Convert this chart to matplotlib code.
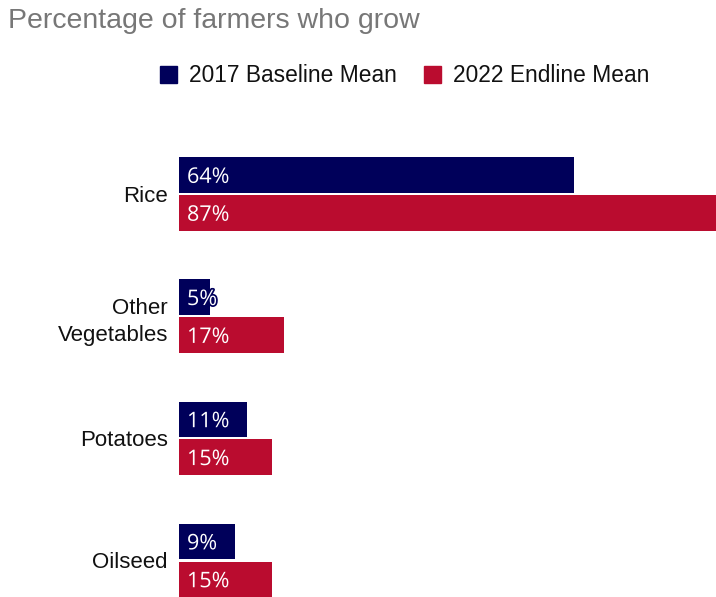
import matplotlib.pyplot as plt
import matplotlib.patheffects as pe
from matplotlib.patches import Rectangle

crops = ["Rice", "Other\nVegetables", "Potatoes", "Oilseed"]
baseline_2017 = [64, 5, 11, 9]
endline_2022 = [87, 17, 15, 15]

navy = "#00005A"
red = "#BA0C2F"

plt.rcParams["font.family"] = ["Liberation Sans", "DejaVu Sans"]

fig = plt.figure(figsize=(7.16, 5.97), dpi=100)
W, H = 716, 597
ax = fig.add_axes([179 / W, 0, 1 - 179 / W, 463 / H])

bar_h = 0.29
offset = 0.155
for i, (b, e) in enumerate(zip(baseline_2017, endline_2022)):
    for val, dy, col in ((b, -offset, navy), (e, offset, red)):
        ax.barh(i + dy, val, height=bar_h, color=col, edgecolor="none")
        ax.text(1.3, i + dy + 0.02, f"{val}%", color="white", fontsize=15.5,
                family=["Open Sans", "DejaVu Sans"], va="center", ha="left",
                path_effects=[pe.withStroke(linewidth=2.5, foreground=col)])

ax.set_xlim(0, 87)
ax.set_ylim(3.30, -0.49)
ax.set_yticks(range(len(crops)))
ax.set_yticklabels(crops, fontsize=16, color="#111111", ha="right",
                   linespacing=1.4)
ax.tick_params(axis="y", length=0, pad=8)
ax.set_xticks([])
for s in ax.spines.values():
    s.set_visible(False)

fig.text(8 / W, 1 - 28 / H, "Percentage of farmers who grow", fontsize=20.5,
         color="#777777", ha="left", va="baseline")

# legend drawn as figure patches + text
for x0, label, col in ((160, "2017 Baseline Mean", navy), (424, "2022 Endline Mean", red)):
    fig.patches.append(Rectangle((x0 / W, 1 - 83 / H), 17 / W, 17 / H,
                                 transform=fig.transFigure, color=col))
    fig.text((x0 + 29) / W, 1 - 82 / H, label, fontsize=16.4, color="#111111",
             ha="left", va="baseline")

fig.savefig("out.png", dpi=100)
